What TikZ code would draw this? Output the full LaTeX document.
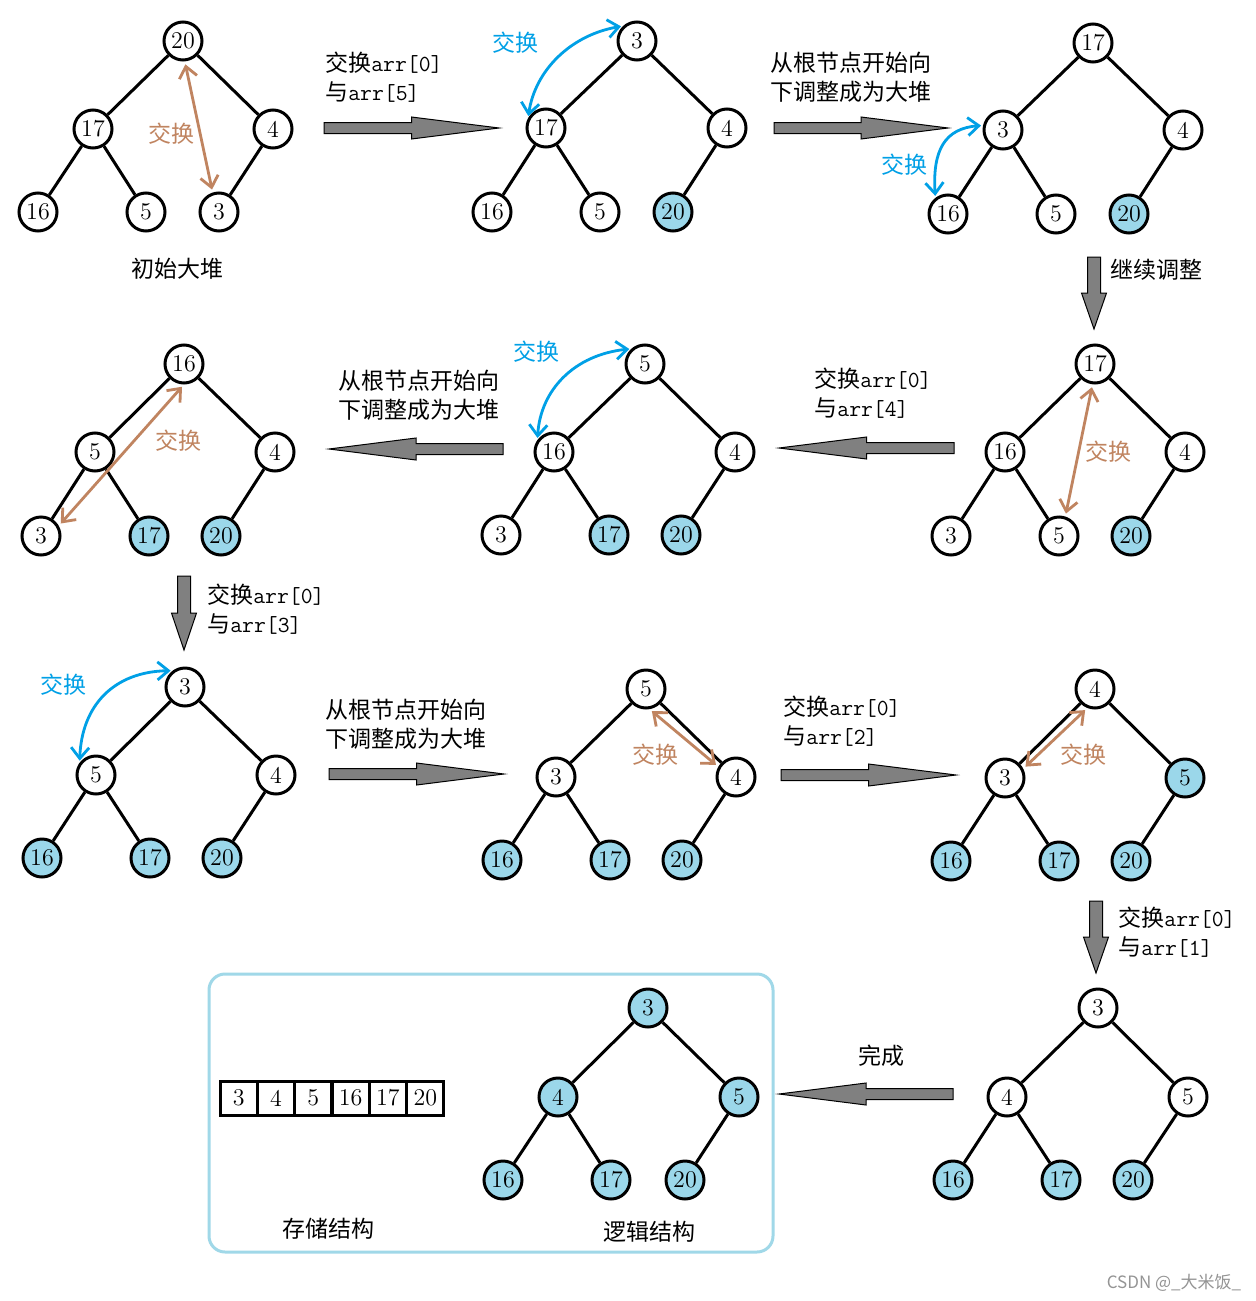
\documentclass[tikz,border=0pt]{standalone}
\usepackage{fontspec}
\newfontfamily\cjk{Noto Sans CJK SC}
\usetikzlibrary{arrows.meta,calc}
\definecolor{leaf}{RGB}{155,215,234}
\definecolor{boxc}{RGB}{160,216,232}
\definecolor{brownc}{RGB}{192,132,96}
\definecolor{bluec}{RGB}{0,160,230}
\definecolor{blkgray}{RGB}{128,128,128}
\newcommand\arrx[1]{{\ttfamily arr[#1]}}
\tikzset{
  hn/.style={circle, draw=black, line width=1.5pt, fill=white, minimum size=19pt, inner sep=0pt, font=\fontsize{12}{12}\selectfont},
  hf/.style={hn, fill=leaf},
  edge/.style={line width=1.5pt, black},
  barbs/.style={{Straight Barb[length=5.5pt,width=9pt]}-{Straight Barb[length=5.5pt,width=9pt]}},
  swapB/.style={brownc, line width=1.4pt, barbs, shorten <=1.5pt, shorten >=1.5pt},
  swapC/.style={bluec, line width=1.4pt, barbs, shorten <=1pt, shorten >=1pt},
  lbl/.style={font=\cjk\fontsize{11.5}{14.5}\selectfont, align=left, inner sep=0pt},
  blk/.style={fill=blkgray, draw=black, line width=0.5pt},
  cell/.style={rectangle, draw=black, line width=1.5pt, minimum width=18.65pt, minimum height=17pt, inner sep=0pt, font=\fontsize{12}{12}\selectfont},
}
\newcommand\blkH[3]{\filldraw[blk] (#1,#3-5.5) -- ({(#1+#2)/2},#3-5.5) -- ({(#1+#2)/2},#3-11) -- (#2,#3) -- ({(#1+#2)/2},#3+11) -- ({(#1+#2)/2},#3+5.5) -- (#1,#3+5.5) -- cycle;}
\newcommand\blkV[3]{\filldraw[blk] (#1-6.5,#2) -- (#1+6.5,#2) -- (#1+6.5,{(#2+#3)/2}) -- (#1+12.5,{(#2+#3)/2}) -- (#1,#3) -- (#1-12.5,{(#2+#3)/2}) -- (#1-6.5,{(#2+#3)/2}) -- cycle;}
\newcommand\tedges[1]{\draw[edge] (#1r) -- (#1l) (#1r) -- (#1rr) (#1l) -- (#1ll) (#1l) -- (#1lr) (#1rr) -- (#1rl);}
\begin{document}
\begin{tikzpicture}[x=0.5pt,y=-0.5pt]
\useasboundingbox (0,0) rectangle (1255,1301);
\fill[white] (0,0) rectangle (1255,1301);

% ---------- Tree 1
\node[hn] (t1r) at (183,41) {20};
\node[hn] (t1l) at (93,129) {17};
\node[hn] (t1rr) at (273,129) {4};
\node[hn] (t1ll) at (38,212) {16};
\node[hn] (t1lr) at (146,212) {5};
\node[hn] (t1rl) at (219,212) {3};
\tedges{t1}
\draw[swapB] (t1r.-85) -- (t1rl.108);
\node[lbl, text=brownc] (s1) at (171,134) {交换};
\node[lbl] (c1) at (177,269) {初始大堆};

% ---------- Tree 2
\node[hn] (t2r) at (637,41) {3};
\node[hn] (t2l) at (546,128) {17};
\node[hn] (t2rr) at (727,128) {4};
\node[hn] (t2ll) at (492,212) {16};
\node[hn] (t2lr) at (600,212) {5};
\node[hf] (t2rl) at (673,212) {20};
\tedges{t2}
\draw[swapC] (t2l.151) .. controls +(7,-48) and +(-52,9) .. (t2r.133);
\node[lbl, text=bluec] (s2) at (515,43) {交换};

% ---------- Tree 3
\node[hn] (t3r) at (1093,43) {17};
\node[hn] (t3l) at (1003,130) {3};
\node[hn] (t3rr) at (1183,130) {4};
\node[hn] (t3ll) at (948,214) {16};
\node[hn] (t3lr) at (1056,214) {5};
\node[hf] (t3rl) at (1129,214) {20};
\tedges{t3}
\draw[swapC] (t3ll.128) .. controls +(-3,-48) and +(-38,3) .. (t3l.167);
\node[lbl, text=bluec] (s3) at (904,165) {交换};

% ---------- Tree 4
\node[hn] (t4r) at (1095,364) {17};
\node[hn] (t4l) at (1005,452) {16};
\node[hn] (t4rr) at (1185,452) {4};
\node[hn] (t4ll) at (951,536) {3};
\node[hn] (t4lr) at (1059,536) {5};
\node[hf] (t4rl) at (1131,536) {20};
\tedges{t4}
\draw[swapB] (t4r.-97) -- (t4lr.72);
\node[lbl, text=brownc] (s4) at (1108,452) {交换};

% ---------- Tree 5
\node[hn] (t5r) at (645,364) {5};
\node[hn] (t5l) at (554,452) {16};
\node[hn] (t5rr) at (735,452) {4};
\node[hn] (t5ll) at (501,535) {3};
\node[hf] (t5lr) at (609,535) {17};
\node[hf] (t5rl) at (681,535) {20};
\tedges{t5}
\draw[swapC] (t5l.144) .. controls +(3,-50) and +(-57,6) .. (t5r.132);
\node[lbl, text=bluec] (s5) at (536,352) {交换};

% ---------- Tree 6
\node[hn] (t6r) at (184,364) {16};
\node[hn] (t6l) at (95,452) {5};
\node[hn] (t6rr) at (275,452) {4};
\node[hn] (t6ll) at (41,536) {3};
\node[hf] (t6lr) at (149,536) {17};
\node[hf] (t6rl) at (221,536) {20};
\tedges{t6}
\draw[swapB] (t6r.-90) -- (t6ll.30);
\node[lbl, text=brownc] (s6) at (178,441) {交换};

% ---------- Tree 7
\node[hn] (t7r) at (185,687) {3};
\node[hn] (t7l) at (96,775) {5};
\node[hn] (t7rr) at (276,775) {4};
\node[hf] (t7ll) at (42,858) {16};
\node[hf] (t7lr) at (150,858) {17};
\node[hf] (t7rl) at (222,858) {20};
\tedges{t7}
\draw[swapC] (t7l.143) .. controls +(2,-58) and +(-58,1) .. (t7r.127);
\node[lbl, text=bluec] (s7) at (63,685) {交换};

% ---------- Tree 8
\node[hn] (t8r) at (646,689) {5};
\node[hn] (t8l) at (556,777) {3};
\node[hn] (t8rr) at (736,777) {4};
\node[hf] (t8ll) at (502,860) {16};
\node[hf] (t8lr) at (610,860) {17};
\node[hf] (t8rl) at (682,860) {20};
\tedges{t8}
\draw[swapB] (t8r.-80) -- (t8rr.150);
\node[lbl, text=brownc] (s8) at (655,755) {交换};

% ---------- Tree 9
\node[hn] (t9r) at (1095,689) {4};
\node[hn] (t9l) at (1005,778) {3};
\node[hf] (t9rr) at (1185,778) {5};
\node[hf] (t9ll) at (951,861) {16};
\node[hf] (t9lr) at (1059,861) {17};
\node[hf] (t9rl) at (1131,861) {20};
\tedges{t9}
\draw[swapB] (t9r.-112) -- (t9l.27);
\node[lbl, text=brownc] (s9) at (1083,755) {交换};

% ---------- Tree 10
\node[hn] (t10r) at (1098,1008) {3};
\node[hn] (t10l) at (1007,1097) {4};
\node[hn] (t10rr) at (1188,1097) {5};
\node[hf] (t10ll) at (953,1180) {16};
\node[hf] (t10lr) at (1061,1180) {17};
\node[hf] (t10rl) at (1133,1180) {20};
\tedges{t10}

% ---------- Result box
\draw[boxc, line width=1.5pt, rounded corners=8pt] (209,974) rectangle (773,1252);
\node[hf] (t11r) at (648,1008) {3};
\node[hf] (t11l) at (558,1097) {4};
\node[hf] (t11rr) at (739,1097) {5};
\node[hf] (t11ll) at (503,1180) {16};
\node[hf] (t11lr) at (611,1180) {17};
\node[hf] (t11rl) at (685,1180) {20};
\tedges{t11}
\foreach \v [count=\i] in {3,4,5,16,17,20}
  \node[cell] (a\i) at ({220+37.33*(\i-0.5)},1098) {\v};
\node[lbl] (c2) at (328,1229) {存储结构};
\node[lbl] (c3) at (649,1232) {逻辑结构};

% ---------- Block arrows and step labels
\blkH{324}{499}{128}
\node[lbl, anchor=west] (m1) at (325,77.5) {交换\arrx{0}\\与\arrx{5}};
\blkH{774}{948}{128}
\node[lbl, anchor=west] (m2) at (770,77.5) {从根节点开始向\\下调整成为大堆};
\blkV{1094}{257}{329}
\node[lbl, anchor=west] (m3) at (1110,270) {继续调整};
\blkH{954}{779}{448}
\node[lbl, anchor=west] (m4) at (814,393.5) {交换\arrx{0}\\与\arrx{4}};
\blkH{503}{329}{449}
\node[lbl, anchor=west] (m5) at (338,395.5) {从根节点开始向\\下调整成为大堆};
\blkV{184}{576}{650}
\node[lbl, anchor=west] (m6) at (207,609.5) {交换\arrx{0}\\与\arrx{3}};
\blkH{329}{504}{774}
\node[lbl, anchor=west] (m7) at (325,724.5) {从根节点开始向\\下调整成为大堆};
\blkH{781}{956}{775}
\node[lbl, anchor=west] (m8) at (783,721.5) {交换\arrx{0}\\与\arrx{2}};
\blkV{1096}{901}{973}
\node[lbl, anchor=west] (m9) at (1118,932.5) {交换\arrx{0}\\与\arrx{1}};
\blkH{953}{779}{1094}
\node[lbl] (m10) at (881,1056) {完成};

% ---------- watermark
\node[font=\cjk\fontsize{8.5}{8.5}\selectfont, text=black!42, inner sep=0pt] (wm) at (1174,1283) {CSDN @\_大米饭\_};
\end{tikzpicture}
\end{document}
